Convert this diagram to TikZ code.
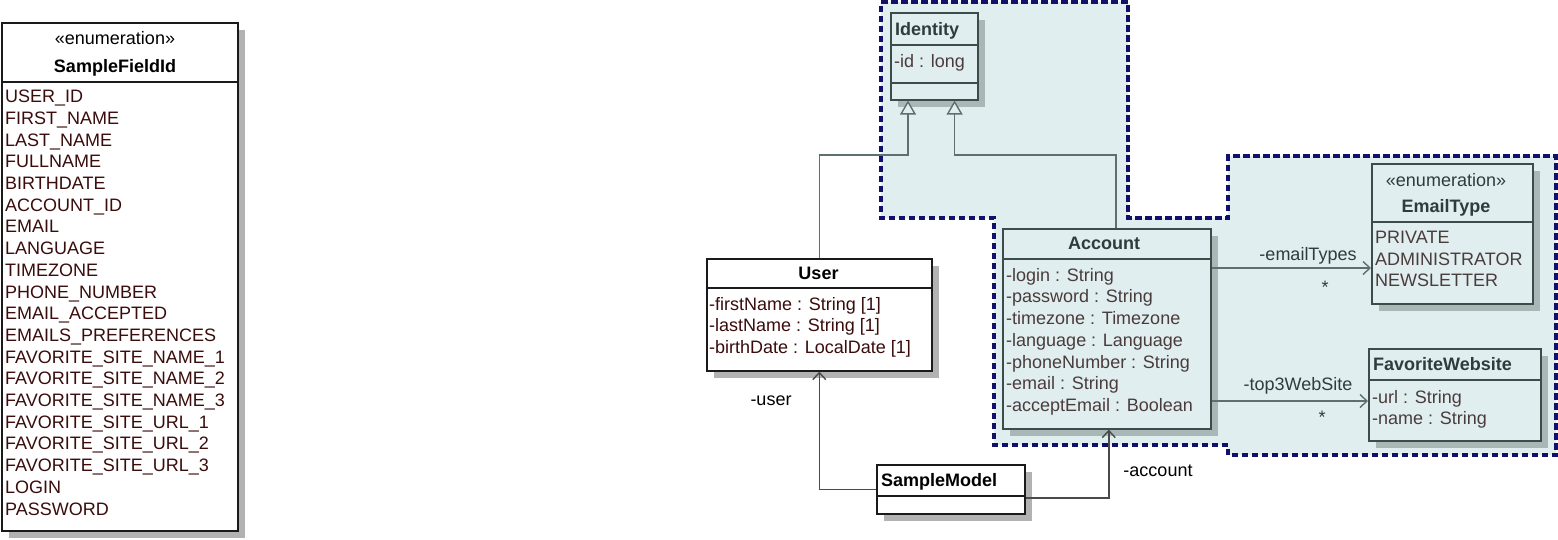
\documentclass[tikz,border=0pt]{standalone}
\usepackage{fontspec}
\setmainfont{Liberation Sans}
\usepackage{tikz}
\usetikzlibrary{arrows.meta,shadows,calc}

\definecolor{pkgfill}{HTML}{E0EEEF}
\definecolor{pkgdash}{HTML}{11116B}
\definecolor{tealline}{HTML}{3D4B4B}
\definecolor{tealshadow}{HTML}{A9B7B7}
\definecolor{tealtitle}{HTML}{2E3C3C}
\definecolor{tealtext}{HTML}{4B3C3C}
\definecolor{tealarrow}{HTML}{5E6F6F}
\definecolor{plainline}{HTML}{1A1A1A}
\definecolor{plainshadow}{HTML}{B2B2B2}
\definecolor{plaintext}{HTML}{3A0C0C}
\definecolor{plainarrow}{HTML}{4A4A4A}

\begin{document}
\begin{tikzpicture}[x=1pt,y=-1pt]
\tikzset{
	plain class/.style = {draw=plainline, fill=white, line width=1.6pt, anchor=north west, inner sep=0,
		drop shadow={shadow xshift=7pt, shadow yshift=-7pt, fill=plainshadow, opacity=1}},
	teal class/.style = {draw=tealline, fill=pkgfill, line width=1.6pt, anchor=north west, inner sep=0,
		drop shadow={shadow xshift=7pt, shadow yshift=-7pt, fill=tealshadow, opacity=1}},
	plain rule/.style = {draw=plainline, line width=1.6pt},
	teal rule/.style = {draw=tealline, line width=1.6pt},
	plain title/.style = {font=\fontsize{18}{21.7}\selectfont\bfseries, text=black, anchor=base, inner sep=0},
	teal title/.style = {font=\fontsize{18}{21.7}\selectfont\bfseries, text=tealtitle, anchor=base, inner sep=0},
	plain text/.style = {font=\fontsize{18}{21.7}\selectfont, text=black, anchor=base, inner sep=0},
	teal text/.style = {font=\fontsize{18}{21.7}\selectfont, text=tealtitle, anchor=base, inner sep=0},
	plain items/.style = {font=\fontsize{18}{21.7}\selectfont, text=plaintext, align=left, anchor=north west, inner sep=0},
	teal items/.style = {font=\fontsize{18}{21.7}\selectfont, text=tealtext, align=left, anchor=north west, inner sep=0},
	pkg/.style = {fill=pkgfill, draw=pkgdash, line width=3.2pt, dash pattern=on 6.5pt off 3.5pt},
	inherit line/.style = {draw=tealarrow, line width=1.4pt, -{Triangle[length=14pt, width=16pt, fill=pkgfill]}},
	teal assoc/.style = {draw=tealarrow, line width=1.4pt, -{Straight Barb[length=7pt, width=13pt]}},
	plain assoc/.style = {draw=plainarrow, line width=1.4pt, -{Straight Barb[length=7pt, width=13pt]}},
}
\useasboundingbox (0,0) rectangle (1558,539);

% package outline
\draw[pkg] (881,2) -- (1128,2) -- (1128,218) -- (1228,218) -- (1228,156) -- (1556,156)
	-- (1556,455) -- (1228,455) -- (1228,445) -- (994,445) -- (994,218) -- (881,218) -- cycle;

% SampleFieldId
\node (fieldid) [plain class, minimum width=236pt, minimum height=508pt] at (1,22) {};
\draw[plain rule] (fieldid.west |- 0,82) -- (fieldid.east |- 0,82);
\node (fieldidstereo) [plain text] at (115,44) {«enumeration»};
\node (fieldidname) [plain title] at (115,72) {SampleFieldId};
\node (fieldiditems) [plain items] at (5,90) {USER\_ID\\FIRST\_NAME\\LAST\_NAME\\FULLNAME\\BIRTHDATE\\ACCOUNT\_ID\\EMAIL\\LANGUAGE\\TIMEZONE\\PHONE\_NUMBER\\EMAIL\_ACCEPTED\\EMAILS\_PREFERENCES\\FAVORITE\_SITE\_NAME\_1\\FAVORITE\_SITE\_NAME\_2\\FAVORITE\_SITE\_NAME\_3\\FAVORITE\_SITE\_URL\_1\\FAVORITE\_SITE\_URL\_2\\FAVORITE\_SITE\_URL\_3\\LOGIN\\PASSWORD};

% Identity
\node (identity) [teal class, minimum width=87pt, minimum height=87pt] at (890,12) {};
\draw[teal rule] (identity.west |- 0,45) -- (identity.east |- 0,45);
\draw[teal rule] (identity.west |- 0,83) -- (identity.east |- 0,83);
\node (identityname) [teal title, anchor=base west] at (895,35) {Identity};
\node (identityattrs) [teal items] at (894,54) {-id : long};

% Account
\node (account) [teal class, minimum width=208pt, minimum height=200pt] at (1002,228) {};
\draw[teal rule] (account.west |- 0,259) -- (account.east |- 0,259);
\node (accountname) [teal title] at (1104,249) {Account};
\node (accountattrs) [teal items] at (1006,268) {-login : String\\-password : String\\-timezone : Timezone\\-language : Language\\-phoneNumber : String\\-email : String\\-acceptEmail : Boolean};

% EmailType
\node (emailtype) [teal class, minimum width=161pt, minimum height=140pt] at (1371,163) {};
\draw[teal rule] (emailtype.west |- 0,222) -- (emailtype.east |- 0,222);
\node (emailtypestereo) [teal text] at (1446,186) {«enumeration»};
\node (emailtypename) [teal title] at (1446,212) {EmailType};
\node (emailtypeitems) [teal items] at (1375,231) {PRIVATE\\ADMINISTRATOR\\NEWSLETTER};

% FavoriteWebsite
\node (website) [teal class, minimum width=172pt, minimum height=92pt] at (1368,348) {};
\draw[teal rule] (website.west |- 0,380) -- (website.east |- 0,380);
\node (websitename) [teal title, anchor=base west] at (1373,370) {FavoriteWebsite};
\node (websiteattrs) [teal items] at (1372,390) {-url : String\\-name : String};

% User
\node (user) [plain class, minimum width=225pt, minimum height=112pt] at (706,258) {};
\draw[plain rule] (user.west |- 0,288) -- (user.east |- 0,288);
\node (username) [plain title] at (818.5,279) {User};
\node (userattrs) [plain items] at (709,297) {-firstName : String [1]\\-lastName : String [1]\\-birthDate : LocalDate [1]};

% SampleModel
\node (model) [plain class, minimum width=148pt, minimum height=49pt] at (876,464) {};
\draw[plain rule] (model.west |- 0,496) -- (model.east |- 0,496);
\node (modelname) [plain title, anchor=base west] at (881,486) {SampleModel};

% generalisations
\coordinate (genrow) at (0,155);
\coordinate (idleft) at ([xshift=18pt]identity.south west);
\coordinate (idright) at ([xshift=-24pt]identity.south east);
\coordinate (acctop) at ([xshift=114pt]account.north west);
\draw[inherit line] (user.north) |- (idleft |- genrow) -- (idleft);
\draw[inherit line] (acctop) |- (idright |- genrow) -- (idright);

% associations
\coordinate (emailrow) at (0,268);
\coordinate (siterow) at (0,401);
\draw[teal assoc] (account.east |- emailrow) -- (emailtype.west |- emailrow);
\draw[teal assoc] (account.east |- siterow) -- (website.west |- siterow);
\draw[plain assoc] (model.west) -| (user.south);
\draw[plain assoc] ([yshift=-8.5pt]model.east) -| ([xshift=2pt]account.south);

% role names
\node (emailrole) [teal text] at (1308,260) {-emailTypes};
\node (emailmult) [teal text] at (1325,293) {*};
\node (siterole) [teal text] at (1298,390) {-top3WebSite};
\node (sitemult) [teal text] at (1322,423) {*};
\node (userrole) [plain text] at (771,405) {-user};
\node (accountrole) [plain text] at (1158,476) {-account};

\end{tikzpicture}
\end{document}
